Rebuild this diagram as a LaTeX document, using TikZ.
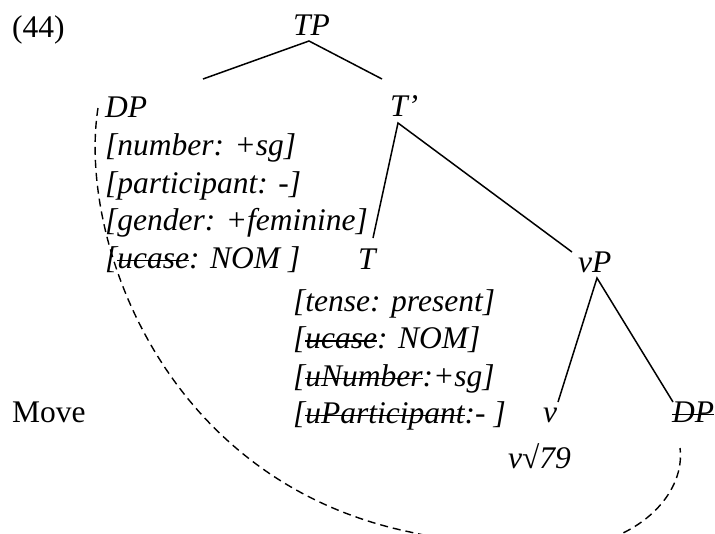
\documentclass[tikz,border=0pt]{standalone}
\usepackage{fontspec}
\setmainfont{Liberation Serif}
% struck-through text (checked feature)
\newcommand\strk[1]{\leavevmode\setbox0=\hbox{#1}\rlap{\raisebox{0.48ex}{\rule{\wd0}{1.3pt}}}\box0}
\begin{document}
\begin{tikzpicture}[x=1pt,y=-1pt,
  lbl/.style={anchor=base west,inner sep=0pt,font=\fontsize{31.5}{38}\selectfont\itshape},
  rom/.style={anchor=base west,inner sep=0pt,font=\fontsize{31.5}{38}\selectfont},
  branch/.style={line width=1.5pt},
  movepath/.style={line width=1.4pt,dash pattern=on 8pt off 5pt}]
\useasboundingbox (0,0) rectangle (715,533);
\clip (0,0) rectangle (715,533);

% labels and feature bundles
\node[rom] (ex)    at (12,37)    {(44)};
\node[lbl] (tp)    at (293,35)   {TP};
\node[lbl] (dp)    at (105,117)  {DP};
\node[lbl] (tbar)  at (390,116)  {T’};
\node[lbl] (f1)    at (105,155)  {[number: +sg]};
\node[lbl] (f2)    at (105,193)  {[participant: -]};
\node[lbl] (f3)    at (105,230.5){[gender: +feminine]};
\node[lbl] (f4)    at (105,268)  {[\strk{ucase}: NOM ]};
\node[lbl] (t)     at (358,269)  {T};
\node[lbl] (vp)    at (578,272)  {vP};
\node[lbl] (g1)    at (293,311)  {[tense: present]};
\node[lbl] (g2)    at (293,348.5){[\strk{ucase}: NOM]};
\node[lbl] (g3)    at (293,386)  {[\strk{uNumber}:+sg]};
\node[lbl] (g4)    at (293,423)  {[\strk{uParticipant}:- ]};
\node[rom] (move)  at (12,422)   {Move};
\node[lbl] (v)     at (543,422)  {v};
\node[lbl] (dpt)   at (672,422)  {\strk{DP}};
\node[lbl] (vroot) at (508,468)  {v√79};

% branch end points
\coordinate (tp-b)   at (309,41);
\coordinate (dp-t)   at (203,79);
\coordinate (tb-t)   at (382,79);
\coordinate (tb-b)   at (398,123);
\coordinate (t-t)    at (373,238);
\coordinate (vp-t)   at (572,252);
\coordinate (vp-b)   at (597,278);
\coordinate (v-t)    at (558,402);
\coordinate (dpt-t)  at (673,402);

\draw[branch] (dp-t) -- (tp-b) -- (tb-t);
\draw[branch] (t-t) -- (tb-b) -- (vp-t);
\draw[branch] (v-t) -- (vp-b) -- (dpt-t);

% movement path
\coordinate (mv-a) at (98,108);
\coordinate (mv-b) at (680,448);
\draw[movepath] (mv-a) .. controls (78,235) and (160,480) .. (410,532)
  .. controls (470,546) and (575,556) .. (623,533)
  .. controls (662,514) and (684,480) .. (mv-b);
\end{tikzpicture}
\end{document}
